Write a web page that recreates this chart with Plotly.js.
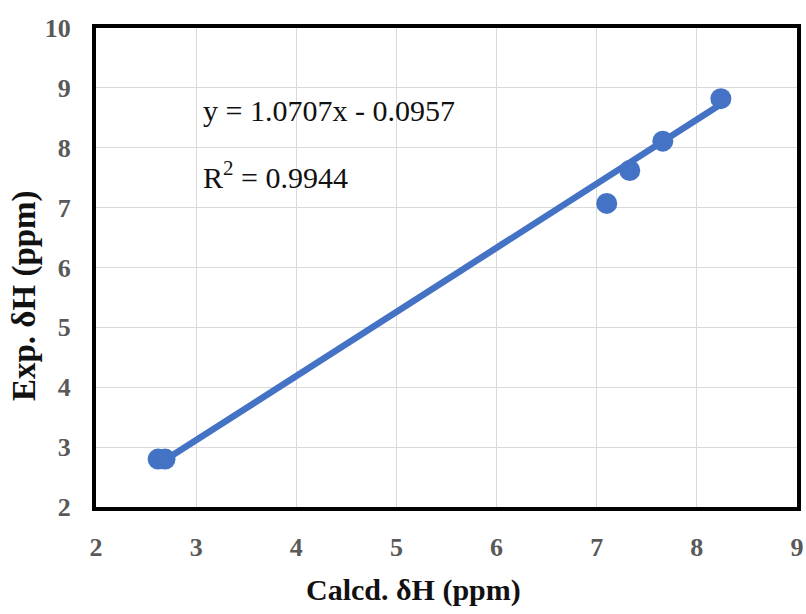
<!DOCTYPE html>
<html><head><meta charset="utf-8">
<script src="https://cdn.plot.ly/plotly-3.0.1.min.js"></script>
<style>html,body{margin:0;padding:0;background:#fff}</style>
</head><body>
<div id="chart" style="width:806px;height:614px"></div>
<script>
const calcd = [2.62, 2.69, 7.10, 7.33, 7.66, 8.24];
const expt  = [2.80, 2.80, 7.07, 7.62, 8.11, 8.82];
const slope = 1.0707, intercept = -0.0957;
const trendX = [2.65, 8.22];
const trendY = trendX.map(x => slope * x + intercept);
const eqText = "y = 1.0707x - 0.0957";
const r2Text = "R<sup>2</sup> = 0.9944";
const xTitle = "Calcd. δH (ppm)";
const yTitle = "Exp. δH (ppm)";
const xTicks = [2, 3, 4, 5, 6, 7, 8, 9];
const yTicks = [2, 3, 4, 5, 6, 7, 8, 9, 10];

const blue = '#4472C4';
const serif = 'Liberation Serif, Times New Roman, serif';
const traces = [
  {x: trendX, y: trendY, mode: 'lines', line: {color: blue, width: 6.5}, hoverinfo: 'skip'},
  {x: calcd, y: expt, mode: 'markers', marker: {color: blue, size: 21}}
];
const tickFont = {family: serif, size: 26, color: '#595959', weight: 'bold'};
const layout = {
  width: 806, height: 614,
  margin: {l: 96, r: 9, t: 28, b: 107},
  showlegend: false,
  paper_bgcolor: '#fff', plot_bgcolor: '#fff',
  xaxis: {
    range: [2, 9], tickvals: xTicks, ticktext: xTicks.map(String),
    showgrid: true, gridcolor: '#d9d9d9', gridwidth: 1,
    showline: true, linecolor: '#000', linewidth: 4, mirror: true,
    zeroline: false, ticks: '', ticklabelstandoff: 14,
    tickfont: tickFont
  },
  yaxis: {
    range: [2, 10], tickvals: yTicks, ticktext: yTicks.map(String),
    showgrid: true, gridcolor: '#d9d9d9', gridwidth: 1,
    showline: true, linecolor: '#000', linewidth: 4, mirror: true,
    zeroline: false, ticks: '', ticklabelstandoff: 16,
    tickfont: tickFont
  },
  annotations: [
    {x: 3.05, y: 8.63, xref: 'x', yref: 'y', text: eqText, showarrow: false, xanchor: 'left', yanchor: 'middle',
     font: {family: serif, size: 30, color: '#111'}},
    {x: 3.05, y: 7.55, xref: 'x', yref: 'y', text: r2Text, showarrow: false, xanchor: 'left', yanchor: 'middle',
     font: {family: serif, size: 30, color: '#111'}},
    {x: 0.4536, y: -0.173, xref: 'paper', yref: 'paper', text: xTitle, showarrow: false,
     xanchor: 'center', yanchor: 'middle',
     font: {family: serif, size: 30, color: '#111', weight: 'bold'}},
    {x: -0.1027, y: 0.4405, xref: 'paper', yref: 'paper', text: yTitle, showarrow: false,
     xanchor: 'center', yanchor: 'middle', textangle: -90,
     font: {family: serif, size: 33, color: '#111', weight: 'bold'}}
  ]
};
Plotly.newPlot('chart', traces, layout, {displayModeBar: false, staticPlot: true});
</script>
</body></html>
